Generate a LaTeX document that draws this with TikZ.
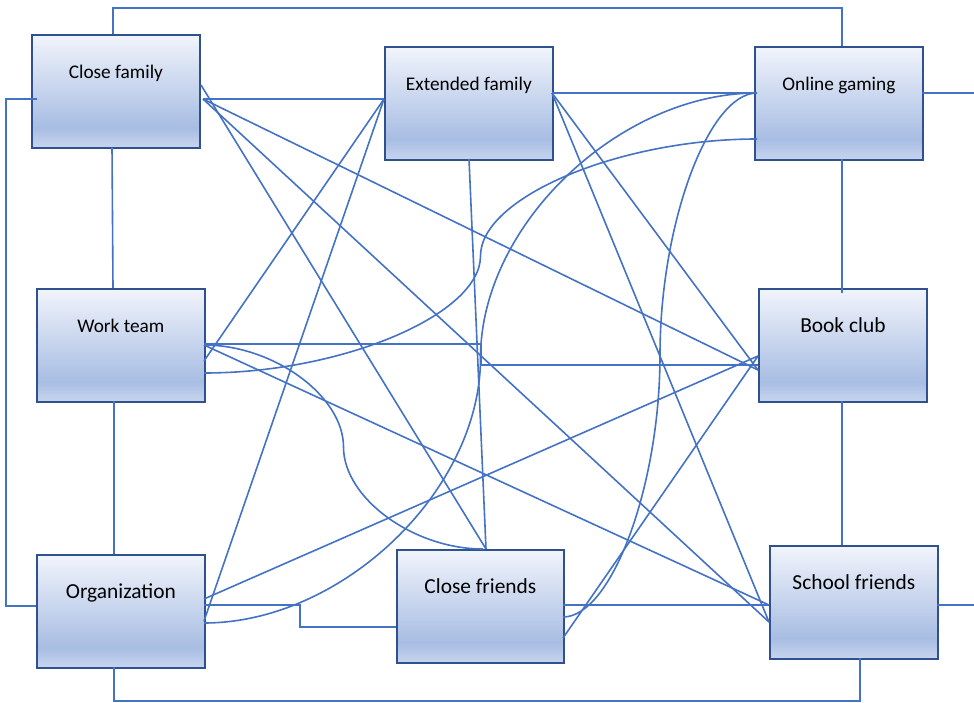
\documentclass[tikz,border=0pt]{standalone}
\usepackage{fontspec}
\setmainfont{Carlito}
\usetikzlibrary{calc}
\definecolor{linkblue}{HTML}{4472C4}
\definecolor{boxedge}{HTML}{2F528F}
\definecolor{shTop}{HTML}{F1F4FB}
\definecolor{shDark}{HTML}{A8BDE3}
\definecolor{shBot}{HTML}{C8D5EE}
\pgfdeclareverticalshading{boxgrad}{100bp}{color(0bp)=(shBot); color(25bp)=(shBot); color(34bp)=(shDark); color(75bp)=(shTop); color(100bp)=(shTop)}
\newcommand{\smallfs}{\fontsize{19.3pt}{23pt}\selectfont}
\newcommand{\largefs}{\fontsize{21.4pt}{25pt}\selectfont}
\tikzset{
  box/.style={draw=boxedge, line width=1.8pt, shading=boxgrad, shading angle=0,
    minimum width=168pt, inner sep=0pt, text height=44pt, text depth=69pt,
    anchor=north west, text=black},
  conn/.style={draw=linkblue, line width=1.6pt}
}
\begin{document}
\begin{tikzpicture}[x=1pt,y=-1pt]
\fill[white] (0,0) rectangle (974,703);
\useasboundingbox (0,0) rectangle (974,703);

\node[box, font=\smallfs] (cf)  at (31,34)  {Close family};
\node[box, font=\smallfs] (ef)  at (384,46) {Extended family};
\node[box, font=\smallfs] (og)  at (754,46) {Online gaming};
\node[box, font=\smallfs] (wt)  at (36,288) {Work team};
\node[box, font=\largefs] (bc)  at (758,288) {Book club};
\node[box, font=\largefs] (org) at (36,554) {Organization};
\node[box, font=\largefs, minimum width=167pt] (cfr) at (396,549) {Close friends};
\node[box, font=\largefs] (sf)  at (769,545) {School friends};

\coordinate (ogout) at (974,93);
\coordinate (sfout) at (974,605);

% orthogonal connectors
\draw[conn] ($(cf.north west)+(82,0)$) -- ++(0,-26) -| ($(og.north west)+(88,0)$);
\draw[conn] ($(cf.north west)+(6,65)$) -- ++(-31,0) |- ($(org.north west)+(0,52)$);
\draw[conn] ($(cf.north west)+(81,113)$) -- ($(wt.north west)+(77,0)$);
\draw[conn] ($(wt.north west)+(78,113)$) -- ($(org.north west)+(78,0)$);
\draw[conn] ($(org.north west)+(78,113)$) -- ++(0,34) -| ($(sf.north west)+(91,113)$);
\draw[conn] ($(og.north west)+(88,113)$) -- ($(bc.north west)+(84,5)$);
\draw[conn] ($(bc.north west)+(84,113)$) -- ($(sf.north west)+(73,0)$);
\draw[conn] ($(og.north west)+(168,47)$) -- (ogout);
\draw[conn] ($(sf.north west)+(168,60)$) -- (sfout);
\draw[conn] ($(cf.north west)+(172,65)$) -- ($(ef.north west)+(0,53)$);
\draw[conn] ($(ef.north west)+(168,47)$) -- ($(og.north west)+(0,47)$);
\draw[conn] ($(ef.north west)+(85,113)$) -- ($(cfr.north west)+(90,0)$);
\draw[conn] ($(org.north west)+(168,51)$) -- ++(96,0) |- ($(cfr.north west)+(0,78)$);
\draw[conn] ($(cfr.north west)+(167,56)$) -- ($(sf.north west)+(0,60)$);
\draw[conn] ($(wt.north west)+(168,56)$) -- ++(277,0) |- ($(bc.north west)+(0,77)$);

% straight diagonals
\draw[conn] ($(cf.north west)+(170,51)$) -- ($(cfr.north west)+(90,0)$);
\draw[conn] ($(cf.north west)+(172,65)$) -- ($(sf.north west)+(0,77)$);
\draw[conn] ($(cf.north west)+(172,65)$) -- ($(bc.north west)+(0,82)$);
\draw[conn] ($(ef.north west)+(0,53)$) -- ($(wt.north west)+(168,73)$);
\draw[conn] ($(ef.north west)+(0,53)$) -- ($(org.north west)+(168,67)$);
\draw[conn] ($(ef.north west)+(168,47)$) -- ($(sf.north west)+(0,77)$);
\draw[conn] ($(ef.north west)+(168,47)$) -- ($(bc.north west)+(0,82)$);
\draw[conn] ($(org.north west)+(168,45)$) -- ($(bc.north west)+(0,68)$);
\draw[conn] ($(cfr.north west)+(167,89)$) -- ($(bc.north west)+(0,68)$);
\draw[conn] ($(wt.north west)+(168,57)$) -- ($(sf.north west)+(0,60)$);

% curved connectors
\draw[conn] ($(wt.north west)+(168,57)$) .. controls +(69.75,0) and +(0,-51) .. ($(wt.north west)+(307.5,159)$) .. controls +(0,51) and +(-69.75,0) .. ($(cfr.north west)+(87,0)$);
\draw[conn] ($(wt.north west)+(168,85)$) .. controls +(138.25,0) and +(0,58.5) .. ($(wt.north west)+(444.5,-32)$) .. controls +(0,-58.5) and +(-138.25,0) .. ($(og.north west)+(3,93)$);
\draw[conn] ($(org.north west)+(168,69)$) .. controls +(138.25,0) and +(0,132.5) .. ($(org.north west)+(444.5,-196)$) .. controls +(0,-132.5) and +(-138.25,0) .. ($(og.north west)+(3,47)$);
\draw[conn] ($(cfr.north west)+(167,68)$) .. controls +(48.5,0) and +(0,131) .. ($(cfr.north west)+(264,-194)$) .. controls +(0,-131) and +(-48.5,0) .. ($(og.north west)+(3,47)$);
\end{tikzpicture}
\end{document}
